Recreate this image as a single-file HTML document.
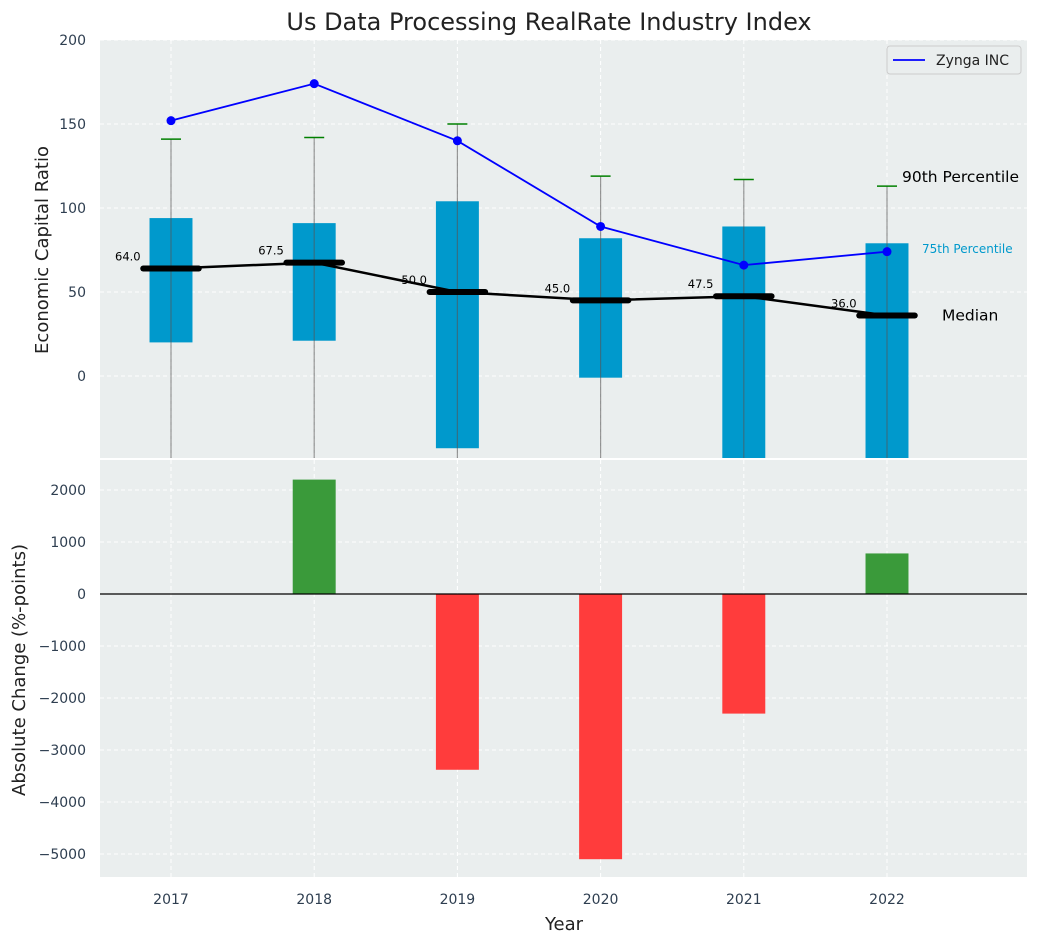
<!DOCTYPE html>
<html><head><meta charset="utf-8"><style>
body{margin:0;background:#fff;font-family:"DejaVu Sans","Liberation Sans",sans-serif;}
</style></head><body>
<svg id="c" width="1039" height="942" xmlns="http://www.w3.org/2000/svg"></svg>
<script>
const years=[2017,2018,2019,2020,2021,2022];
const boxLow=[20,21,-43,-1,-60,-60];
const boxHigh=[94,91,104,82,89,79];
const whiskerTop=[141,142,150,119,117,113];
const medians=[64,67.5,50,45,47.5,36];
const zynga=[152,174,140,89,66,74];
const changes=[0,2200,-3380,-5100,-2300,780];
const topTicks=[0,50,100,150,200];
const botTicks=[-5000,-4000,-3000,-2000,-1000,0,1000,2000];

const svg=document.getElementById('c');
const NS='http://www.w3.org/2000/svg';
function el(t,a,txt){const e=document.createElementNS(NS,t);for(const k in a)e.setAttribute(k,a[k]);if(txt!==undefined)e.textContent=txt;svg.appendChild(e);return e;}
const L=100,R=1027;
const pxYear=143.2;
const x=v=>171+(v-2017)*pxYear;
const T1=40,B1=458,T2=460,B2=877;
const y1=v=>376-(v)*1.68;
const y2=v=>594-v*0.052;

let e=el('rect',{x:L,y:T1,width:R-L,height:B1-T1,fill:'#eaeeee'});

e=el('rect',{x:L,y:T2,width:R-L,height:B2-T2,fill:'#eaeeee'});


years.forEach(yr=>{
 el('line',{x1:x(yr),x2:x(yr),y1:T1,y2:B1,stroke:'#fff','stroke-dasharray':'4,3'});
 el('line',{x1:x(yr),x2:x(yr),y1:T2,y2:B2,stroke:'#fff','stroke-dasharray':'4,3'});
 e=el('text',{x:x(yr),y:904,'text-anchor':'middle','font-size':14,fill:'#2e3e50'},yr);
 
});
topTicks.forEach(t=>{
 el('line',{x1:L,x2:R,y1:y1(t),y2:y1(t),stroke:'#fff','stroke-dasharray':'4,3'});
 e=el('text',{x:L-14,y:y1(t)+5,'text-anchor':'end','font-size':14,fill:'#2e3e50'},t);
 
});
botTicks.forEach(t=>{
 el('line',{x1:L,x2:R,y1:y2(t),y2:y2(t),stroke:'#fff','stroke-dasharray':'4,3'});
 e=el('text',{x:L-14,y:y2(t)+5,'text-anchor':'end','font-size':14,fill:'#2e3e50'},String(t).replace('-','\u2212'));
 
});

const defs=el('defs',{});
const cp=document.createElementNS(NS,'clipPath');cp.setAttribute('id','ct');
const cr=document.createElementNS(NS,'rect');cr.setAttribute('x',L);cr.setAttribute('y',T1);cr.setAttribute('width',R-L);cr.setAttribute('height',B1-T1);
cp.appendChild(cr);defs.appendChild(cp);
const g=el('g',{'clip-path':'url(#ct)'});
function gel(t,a,txt){const n=el(t,a,txt);g.appendChild(n);return n;}

const bw=0.3*pxYear, mw=0.43*pxYear;
years.forEach((yr,i)=>{
 e=gel('rect',{x:x(yr)-bw/2,y:y1(boxHigh[i]),width:bw,height:y1(boxLow[i])-y1(boxHigh[i]),fill:'#0099cc'});
 
 e=gel('line',{x1:x(yr),x2:x(yr),y1:y1(whiskerTop[i]),y2:B1+5,stroke:'#555','stroke-opacity':0.6,'stroke-width':1.2});
 
 e=gel('line',{x1:x(yr)-10,x2:x(yr)+10,y1:y1(whiskerTop[i]),y2:y1(whiskerTop[i]),stroke:'green','stroke-width':1.5});
 
});
let pts=years.map((yr,i)=>x(yr)+','+y1(medians[i])).join(' ');
e=gel('polyline',{points:pts,fill:'none',stroke:'#000','stroke-width':2.5});

years.forEach((yr,i)=>{
 e=gel('line',{x1:x(yr)-mw/2+3,x2:x(yr)+mw/2-3,y1:y1(medians[i]),y2:y1(medians[i]),stroke:'#000','stroke-width':6,'stroke-linecap':'round'});
 
 e=gel('text',{x:x(yr)-56,y:y1(medians[i])-8,'font-size':11.5,fill:'#000'},medians[i].toFixed(1));
 
});
pts=years.map((yr,i)=>x(yr)+','+y1(zynga[i])).join(' ');
e=gel('polyline',{points:pts,fill:'none',stroke:'blue','stroke-width':1.8});

years.forEach((yr,i)=>{
 e=gel('circle',{cx:x(yr),cy:y1(zynga[i]),r:4.5,fill:'blue'});
 
});
const last=years.length-1;
e=el('text',{x:x(years[last])+15,y:y1(whiskerTop[last])-4,'font-size':15.5,fill:'#000'},'90th Percentile');

e=el('text',{x:x(years[last])+35,y:253,'font-size':12,fill:'#0099cc'},'75th Percentile');

e=el('text',{x:x(years[last])+55,y:y1(medians[last])+5,'font-size':15.5,fill:'#000'},'Median');


e=el('rect',{x:887,y:46,width:134,height:28,rx:3,fill:'#eaeeee',stroke:'#ccc'});

el('line',{x1:893,x2:925,y1:60,y2:60,stroke:'blue','stroke-width':1.8});
e=el('text',{x:936,y:65,'font-size':14,fill:'#222'},'Zynga INC');


years.forEach((yr,i)=>{
 const v=changes[i];
 e=el('rect',{x:x(yr)-bw/2,y:Math.min(y2(v),y2(0)),width:bw,height:Math.abs(y2(v)-y2(0)),fill:v>=0?'#3a9a3a':'#ff3c3c'});
 
});
el('line',{x1:L,x2:R,y1:y2(0),y2:y2(0),stroke:'#000','stroke-width':1.2});

e=el('text',{x:549,y:30,'text-anchor':'middle','font-size':24,fill:'#222'},'Us Data Processing RealRate Industry Index');

e=el('text',{x:564,y:930,'text-anchor':'middle','font-size':18,fill:'#222'},'Year');

e=el('text',{x:0,y:0,'text-anchor':'middle','font-size':18,fill:'#222',transform:'translate(48,250) rotate(-90)'},'Economic Capital Ratio');

e=el('text',{x:0,y:0,'text-anchor':'middle','font-size':18,fill:'#222',transform:'translate(25,670) rotate(-90)'},'Absolute Change (%-points)');

</script>
</body></html>
